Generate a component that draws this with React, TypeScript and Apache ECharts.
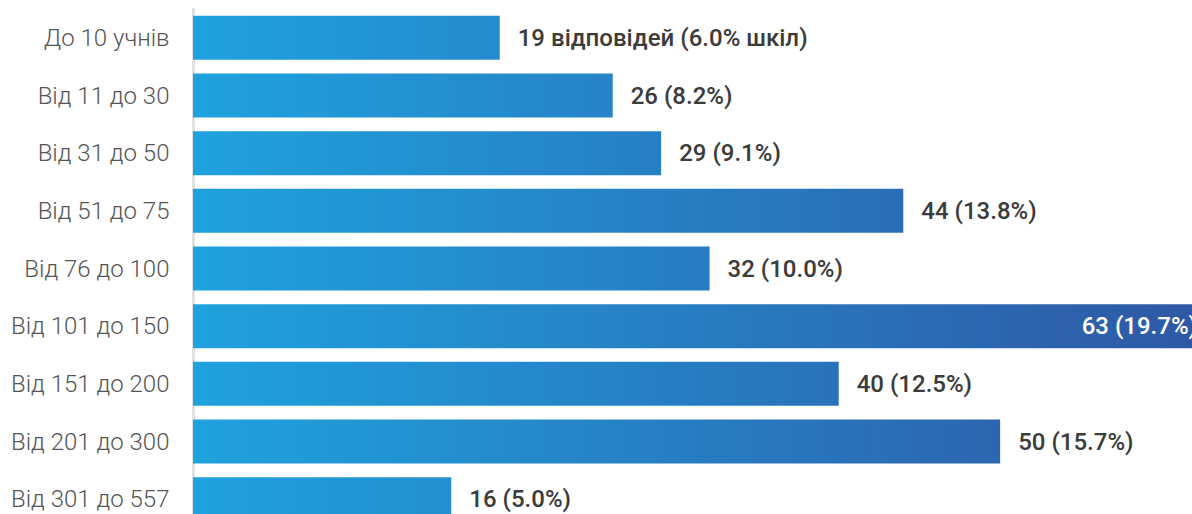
import React, { useEffect, useRef } from "react";
import * as echarts from "echarts";

const categories = [
  "До 10 учнів",
  "Від 11 до 30",
  "Від 31 до 50",
  "Від 51 до 75",
  "Від 76 до 100",
  "Від 101 до 150",
  "Від 151 до 200",
  "Від 201 до 300",
  "Від 301 до 557",
];
const counts = [19, 26, 29, 44, 32, 63, 40, 50, 16];
const percents = ["6.0", "8.2", "9.1", "13.8", "10.0", "19.7", "12.5", "15.7", "5.0"];

const C0 = [0x1f, 0xa2, 0xde];
const C1 = [0x2f, 0x57, 0xa4];

function mix(t: number): string {
  const c = C0.map((a, i) => Math.round(a + (C1[i] - a) * t));
  return `rgb(${c[0]},${c[1]},${c[2]})`;
}

export default function App() {
  const ref = useRef<HTMLDivElement>(null);
  useEffect(() => {
    if (!ref.current) return;
    const chart = echarts.init(ref.current, null, { renderer: "svg" });
    const maxV = Math.max(...counts);
    chart.setOption({
      animation: false,
      grid: { left: 193, right: 20, top: 9, bottom: 17 },
      xAxis: {
        type: "value",
        min: 0,
        max: maxV,
        show: false,
      },
      yAxis: {
        type: "category",
        data: categories,
        inverse: true,
        offset: 1.5,
        axisLine: { show: true, lineStyle: { color: "#e0e0e0", width: 3 } },
        axisTick: { show: false },
        axisLabel: {
          fontFamily: "Roboto",
          fontSize: 24,
          fontWeight: 300,
          color: "#555555",
          margin: 22,
        },
      },
      series: [
        {
          type: "bar",
          barWidth: 44,
          data: counts.map((v, i) => {
            const isMax = v === maxV;
            return {
              value: v,
              itemStyle: {
                color: new echarts.graphic.LinearGradient(0, 0, 1, 0, [
                  { offset: 0, color: mix(0) },
                  { offset: 1, color: mix(v / maxV) },
                ]),
              },
              label: {
                show: true,
                position: isMax ? "insideRight" : "right",
                distance: isMax ? 13 : 18,
                color: isMax ? "#ffffff" : "#3c3c3c",
                fontFamily: "'Roboto Medium', Roboto",
                fontSize: 24,
                fontWeight: 500,
                formatter:
                  i === 0
                    ? `${v} відповідей (${percents[i]}% шкіл)`
                    : `${v} (${percents[i]}%)`,
              },
            };
          }),
        },
      ],
    });
    return () => chart.dispose();
  }, []);
  return (
    <div
      style={{
        position: "fixed",
        left: 0,
        top: 0,
        width: 1192,
        height: 514,
        overflow: "hidden",
        background: "#fff",
      }}
    >
      <div
        ref={ref}
        style={{ position: "absolute", left: 0, top: 0, width: 1230, height: 545 }}
      />
    </div>
  );
}
